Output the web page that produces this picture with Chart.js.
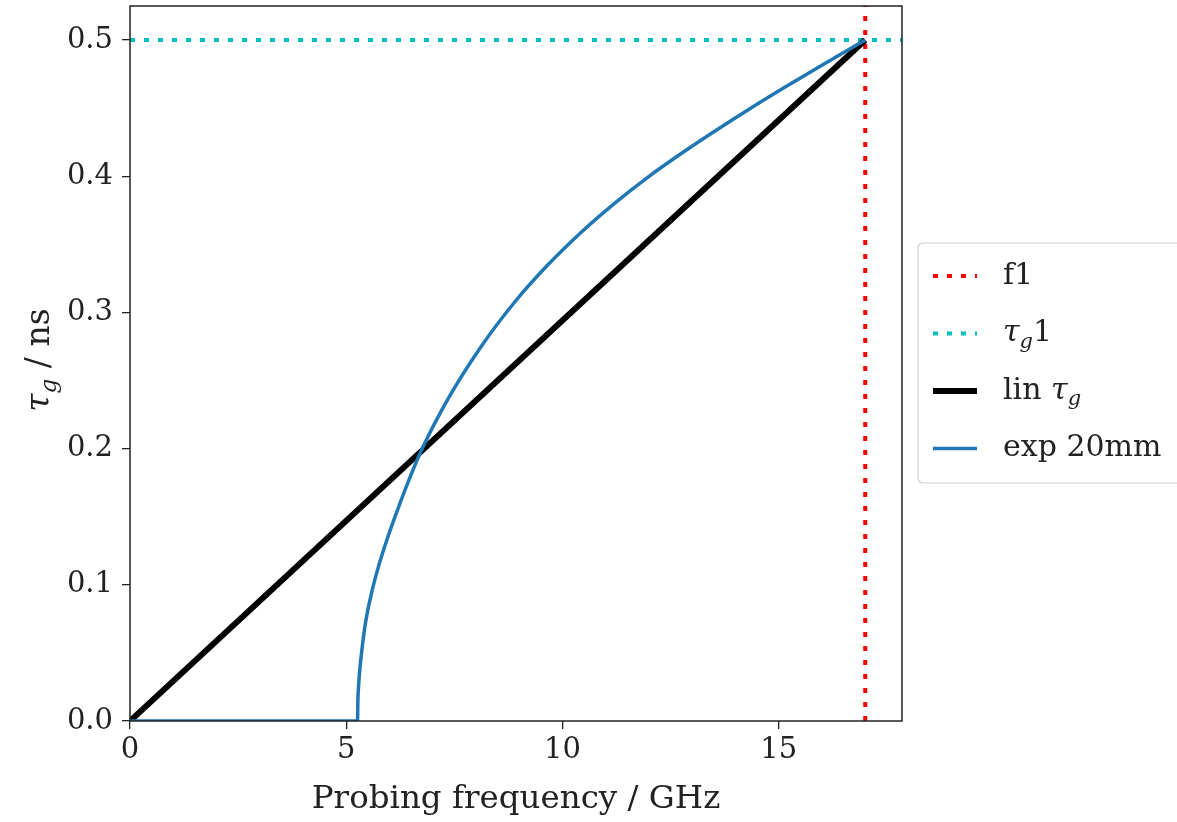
<!DOCTYPE html>
<html>
<head>
<meta charset="utf-8">
<script src="https://cdn.jsdelivr.net/npm/chart.js@4/dist/chart.umd.min.js"></script>
<style>
  html,body{margin:0;padding:0;background:#fff;}
  #wrap{width:1177px;height:822px;}
</style>
</head>
<body>
<div id="wrap"><canvas id="c" width="1177" height="822"></canvas></div>
<script>
// === data ===
const f1 = 17;          // GHz
const tau1 = 0.5;       // ns
const linFreq = [0, 17];
const linTau  = [0, 0.5];
const expFreq = [0, 5.26, 5.27, 5.29, 5.32, 5.38, 5.45, 5.6, 5.76, 5.95, 6.14, 6.4, 6.76, 7.37, 8.14,
                 8.91, 9.68, 10.44, 11.21, 11.94, 12.83, 13.59, 14.36, 15.13, 15.9, 16.67, 17.0];
const expTau  = [0, 0, 0.016, 0.028, 0.040, 0.057, 0.073, 0.096, 0.115, 0.134, 0.151, 0.173, 0.2002, 0.2374, 0.2759,
                 0.3082, 0.3355, 0.3591, 0.3803, 0.3985, 0.4185, 0.4345, 0.4501, 0.4651, 0.4797, 0.4939, 0.5];
const xTicks = [0, 5, 10, 15];
const yTicks = [0, 0.1, 0.2, 0.3, 0.4, 0.5];
const xMax = 17.85, yMax = 0.525;

const FONT = '"DejaVu Serif", "Liberation Serif", serif';
const RED = '#ff0000', CYAN = '#00bfbf', BLUE = '#1f77b4';

const pts = (xs, ys) => xs.map((x, i) => ({x: x, y: ys[i]}));

// legend rows: label parts (italic / subscript pieces)
const legendRows = [
  {color: RED,  width: 4, dash: [5, 9], parts: [{t: 'f1'}]},
  {color: CYAN, width: 4, dash: [5, 9], parts: [{t: 'τ', it: 1}, {t: 'g', it: 1, sub: 1}, {t: '1'}]},
  {color: '#000', width: 6, dash: [], parts: [{t: 'lin '}, {t: 'τ', it: 1}, {t: 'g', it: 1, sub: 1}]},
  {color: BLUE, width: 3.5, dash: [], parts: [{t: 'exp 20mm'}]}
];

function richWidth(ctx, parts, size){
  let w = 0;
  parts.forEach(p => {
    ctx.font = (p.it ? 'italic ' : '') + (p.sub ? size * 0.7 : size) + 'px ' + FONT;
    w += ctx.measureText(p.t).width;
  });
  return w;
}
function drawRich(ctx, parts, x, y, size){
  let cx = x;
  parts.forEach(p => {
    ctx.font = (p.it ? 'italic ' : '') + (p.sub ? size * 0.7 : size) + 'px ' + FONT;
    ctx.fillText(p.t, cx, y + (p.sub ? size * 0.3 : 0));
    cx += ctx.measureText(p.t).width;
  });
}

// frame, axis titles and legend
const decor = {
  id: 'decor',
  afterDraw(chart){
    const ctx = chart.ctx, a = chart.chartArea;
    ctx.save();
    // frame
    ctx.strokeStyle = '#222'; ctx.lineWidth = 1.5;
    ctx.strokeRect(a.left, a.top, a.right - a.left, a.bottom - a.top);

    ctx.fillStyle = '#222';
    ctx.textBaseline = 'middle';
    // x title
    ctx.font = '32.5px ' + FONT;
    ctx.textAlign = 'center';
    ctx.fillText('Probing frequency / GHz', (a.left + a.right) / 2, 800);
    // y title
    ctx.textAlign = 'left';
    const yParts = [{t: 'τ', it: 1}, {t: 'g', it: 1, sub: 1}, {t: ' / ns'}];
    const yw = richWidth(ctx, yParts, 33);
    ctx.translate(40, 360);
    ctx.rotate(-Math.PI / 2);
    drawRich(ctx, yParts, -yw / 2, 0, 33);
    ctx.setTransform(1, 0, 0, 1, 0, 0);

    // legend box
    const bx = 918, by = 243, bw = 290, bh = 240, r = 5;
    ctx.beginPath();
    ctx.roundRect(bx, by, bw, bh, r);
    ctx.fillStyle = 'rgba(255,255,255,0.9)'; ctx.fill();
    ctx.strokeStyle = '#d0d0d0'; ctx.lineWidth = 1.2; ctx.stroke();
    legendRows.forEach((row, i) => {
      const y = 276 + i * 57.5;
      ctx.beginPath();
      ctx.setLineDash(row.dash);
      ctx.strokeStyle = row.color; ctx.lineWidth = row.width;
      ctx.moveTo(933, y); ctx.lineTo(977, y); ctx.stroke();
      ctx.setLineDash([]);
      ctx.fillStyle = '#222';
      drawRich(ctx, row.parts, 1003, y, 30);
    });
    ctx.restore();
  }
};

new Chart(document.getElementById('c'), {
  type: 'scatter',
  data: {
    datasets: [
      {label: 'f1', data: pts([f1, f1], [0, yMax]), showLine: true, borderColor: RED, borderWidth: 4,
       borderDash: [5, 9], pointRadius: 0, order: 4, clip: 0},
      {label: 'tau_g1', data: pts([0, xMax], [tau1, tau1]), showLine: true, borderColor: CYAN, borderWidth: 4,
       borderDash: [5, 9], pointRadius: 0, order: 3, clip: 0},
      {label: 'lin tau_g', data: pts(linFreq, linTau), showLine: true, borderColor: '#000', borderWidth: 6,
       pointRadius: 0, order: 2, clip: 0},
      {label: 'exp 20mm', data: pts(expFreq, expTau), showLine: true, borderColor: BLUE, borderWidth: 3.5,
       pointRadius: 0, cubicInterpolationMode: 'monotone', order: 1, clip: 0}
    ]
  },
  options: {
    responsive: false,
    animation: false,
    layout: {padding: {top: 6, right: 275, left: 0, bottom: 0}},
    plugins: {legend: {display: false}, tooltip: {enabled: false}},
    scales: {
      x: {
        type: 'linear', min: 0, max: xMax,
        afterBuildTicks: s => { s.ticks = xTicks.map(v => ({value: v})); },
        afterFit: s => { s.height = 101; s.paddingLeft = 0; s.paddingRight = 0; },
        grid: {drawOnChartArea: false, drawTicks: true, tickLength: 8, color: '#222', lineWidth: 1.3},
        border: {display: false},
        ticks: {color: '#222', font: {family: FONT, size: 29}, padding: 4, maxRotation: 0,
                callback: v => String(v)}
      },
      y: {
        type: 'linear', min: 0, max: yMax,
        afterBuildTicks: s => { s.ticks = yTicks.map(v => ({value: v})); },
        afterFit: s => { s.width = 130; s.paddingTop = 0; s.paddingBottom = 0; },
        grid: {drawOnChartArea: false, drawTicks: true, tickLength: 8, color: '#222', lineWidth: 1.3},
        border: {display: false},
        ticks: {color: '#222', font: {family: FONT, size: 29}, padding: 9,
                callback: v => v.toFixed(1)}
      }
    }
  },
  plugins: [decor]
});
</script>
</body>
</html>
